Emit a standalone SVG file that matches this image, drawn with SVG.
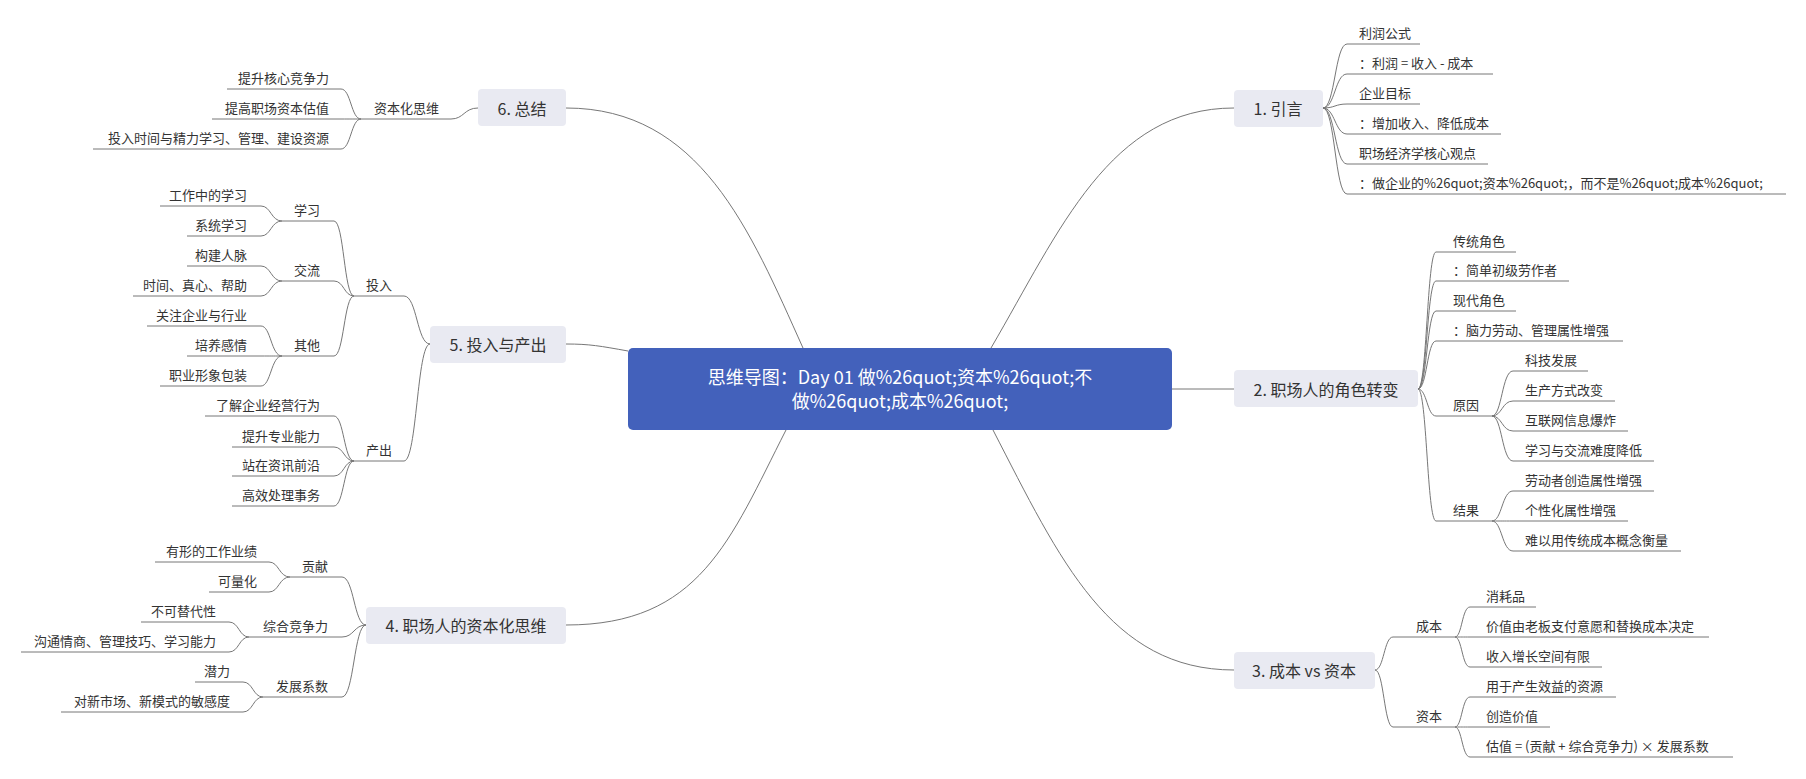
<svg xmlns="http://www.w3.org/2000/svg" width="1806" height="779" viewBox="0 0 1806 779">
<style>
text{font-family:"Noto Sans CJK SC","Noto Sans",sans-serif;fill:#333}
.lf{font-size:13px}
.l2{font-size:13px}
.l1{font-size:16px;text-anchor:middle;dominant-baseline:central}
.r{text-anchor:end}
.c{font-size:18px;fill:#fff;text-anchor:middle}
.box{fill:#e9eaf2}
#links path{fill:none;stroke:#777;stroke-width:1}
</style>
<rect width="1806" height="779" fill="#fff"/>
<g id="links">
<path d="M991,348 C1060,230 1110,108 1234,108"/>
<path d="M1172,389 H1234"/>
<path d="M993,430 C1060,560 1110,670 1234,670"/>
<path d="M803,348 C750,230 700,108 566,108"/>
<path d="M628,351 C600,346 590,344 566,344"/>
<path d="M786,430 C730,540 700,625 566,625"/>
<path d="M1323,108 C1335,108 1335,44 1347,44 H1420 M1323,108 C1335,108 1335,74 1347,74 H1493 M1323,108 C1335,108 1335,104 1347,104 H1420 M1323,108 C1335,108 1335,134 1347,134 H1501 M1323,108 C1335,108 1335,164 1347,164 H1488 M1323,108 C1335,108 1335,194 1347,194 H1786"/>
<path d="M1418,389 C1427,389 1427,252 1436,252 H1516 M1418,389 C1427,389 1427,281 1436,281 H1569 M1418,389 C1427,389 1427,311 1436,311 H1516 M1418,389 C1427,389 1427,341 1436,341 H1623 M1418,389 C1427,389 1427,416 1436,416 H1492 M1418,389 C1427,389 1427,521 1436,521 H1492"/>
<path d="M1492,416 C1502,416 1502,371 1513,371 H1588 M1492,416 C1502,416 1502,401 1513,401 H1615 M1492,416 C1502,416 1502,431 1513,431 H1628 M1492,416 C1502,416 1502,461 1513,461 H1654"/>
<path d="M1492,521 C1502,521 1502,491 1513,491 H1654 M1492,521 C1502,521 1502,521 1513,521 H1628 M1492,521 C1502,521 1502,551 1513,551 H1681"/>
<path d="M1375,670 C1384,670 1384,637 1393,637 H1455 M1375,670 C1384,670 1384,727 1393,727 H1455"/>
<path d="M1455,637 C1462,637 1462,607 1470,607 H1536 M1455,637 C1462,637 1462,637 1470,637 H1709 M1455,637 C1462,637 1462,667 1470,667 H1602"/>
<path d="M1455,727 C1462,727 1462,697 1470,697 H1616 M1455,727 C1462,727 1462,727 1470,727 H1550 M1455,727 C1462,727 1462,757 1470,757 H1733"/>
<path d="M478,108 C464,108 464,119 451,119 H361"/>
<path d="M361,119 C351,119 351,89 341,89 H227 M361,119 C351,119 351,119 341,119 H212 M361,119 C351,119 351,149 341,149 H93"/>
<path d="M430,344 C417,344 417,296 404,296 H354 M430,344 C417,344 417,461 404,461 H354"/>
<path d="M354,296 C344,296 344,221 334,221 H282 M354,296 C344,296 344,281 334,281 H282 M354,296 C344,296 344,356 334,356 H282"/>
<path d="M282,221 C271,221 271,206 261,206 H160 M282,221 C271,221 271,236 261,236 H187"/>
<path d="M282,281 C271,281 271,266 261,266 H187 M282,281 C271,281 271,296 261,296 H133"/>
<path d="M282,356 C271,356 271,326 261,326 H147 M282,356 C271,356 271,356 261,356 H187 M282,356 C271,356 271,386 261,386 H160"/>
<path d="M354,461 C344,461 344,416 334,416 H205 M354,461 C344,461 344,447 334,447 H232 M354,461 C344,461 344,476 334,476 H232 M354,461 C344,461 344,506 334,506 H232"/>
<path d="M366,625 C354,625 354,577 342,577 H290 M366,625 C354,625 354,637 342,637 H249 M366,625 C354,625 354,697 342,697 H263"/>
<path d="M290,577 C279,577 279,562 269,562 H155 M290,577 C279,577 279,592 269,592 H209"/>
<path d="M249,637 C239,637 239,622 229,622 H141 M249,637 C239,637 239,652 229,652 H21"/>
<path d="M263,697 C253,697 253,682 243,682 H195 M263,697 C253,697 253,712 243,712 H61"/>
</g>
<g id="center"><rect x="628" y="348" width="544" height="82" rx="5" fill="#4361bb"/>
<text class="c" x="900" y="384">思维导图：Day 01 做%26quot;资本%26quot;不</text>
<text class="c" x="900" y="408">做%26quot;成本%26quot;</text></g>
<g id="n1"><rect class="box" x="1234" y="90" width="89" height="37" rx="4"/><text class="l1" x="1278" y="108">1. 引言</text>
<text class="lf" x="1359" y="38">利润公式</text><text class="lf" x="1359" y="68">：利润 = 收入 - 成本</text><text class="lf" x="1359" y="98">企业目标</text><text class="lf" x="1359" y="128">：增加收入、降低成本</text><text class="lf" x="1359" y="158">职场经济学核心观点</text><text class="lf" x="1359" y="188">：做企业的%26quot;资本%26quot;，而不是%26quot;成本%26quot;</text></g>
<g id="n2"><rect class="box" x="1234" y="370" width="184" height="37" rx="4"/><text class="l1" x="1326" y="389">2. 职场人的角色转变</text>
<text class="lf" x="1453" y="246">传统角色</text><text class="lf" x="1453" y="275">：简单初级劳作者</text><text class="lf" x="1453" y="305">现代角色</text><text class="lf" x="1453" y="335">：脑力劳动、管理属性增强</text><text class="l2" x="1453" y="410">原因</text><text class="l2" x="1453" y="515">结果</text>
<text class="lf" x="1525" y="365">科技发展</text><text class="lf" x="1525" y="395">生产方式改变</text><text class="lf" x="1525" y="425">互联网信息爆炸</text><text class="lf" x="1525" y="455">学习与交流难度降低</text>
<text class="lf" x="1525" y="485">劳动者创造属性增强</text><text class="lf" x="1525" y="515">个性化属性增强</text><text class="lf" x="1525" y="545">难以用传统成本概念衡量</text></g>
<g id="n3"><rect class="box" x="1234" y="652" width="141" height="37" rx="4"/><text class="l1" x="1304" y="670">3. 成本 vs 资本</text>
<text class="l2" x="1416" y="631">成本</text><text class="l2" x="1416" y="721">资本</text>
<text class="lf" x="1486" y="601">消耗品</text><text class="lf" x="1486" y="631">价值由老板支付意愿和替换成本决定</text><text class="lf" x="1486" y="661">收入增长空间有限</text>
<text class="lf" x="1486" y="691">用于产生效益的资源</text><text class="lf" x="1486" y="721">创造价值</text><text class="lf" x="1486" y="751">估值 = (贡献 + 综合竞争力) × 发展系数</text></g>
<g id="n4"><rect class="box" x="366" y="607" width="200" height="37" rx="4"/><text class="l1" x="466" y="625">4. 职场人的资本化思维</text>
<text class="l2 r" x="328" y="571">贡献</text><text class="l2 r" x="328" y="631">综合竞争力</text><text class="l2 r" x="328" y="691">发展系数</text>
<text class="lf r" x="257" y="556">有形的工作业绩</text><text class="lf r" x="257" y="586">可量化</text><text class="lf r" x="216" y="616">不可替代性</text><text class="lf r" x="216" y="646">沟通情商、管理技巧、学习能力</text><text class="lf r" x="230" y="676">潜力</text><text class="lf r" x="230" y="706">对新市场、新模式的敏感度</text></g>
<g id="n5"><rect class="box" x="430" y="326" width="136" height="37" rx="4"/><text class="l1" x="498" y="344">5. 投入与产出</text>
<text class="l2 r" x="392" y="290">投入</text><text class="l2 r" x="392" y="455">产出</text>
<text class="l2 r" x="320" y="215">学习</text><text class="l2 r" x="320" y="275">交流</text><text class="l2 r" x="320" y="350">其他</text>
<text class="lf r" x="247" y="200">工作中的学习</text><text class="lf r" x="247" y="230">系统学习</text><text class="lf r" x="247" y="260">构建人脉</text><text class="lf r" x="247" y="290">时间、真心、帮助</text><text class="lf r" x="247" y="320">关注企业与行业</text><text class="lf r" x="247" y="350">培养感情</text><text class="lf r" x="247" y="380">职业形象包装</text>
<text class="lf r" x="320" y="410">了解企业经营行为</text><text class="lf r" x="320" y="441">提升专业能力</text><text class="lf r" x="320" y="470">站在资讯前沿</text><text class="lf r" x="320" y="500">高效处理事务</text></g>
<g id="n6"><rect class="box" x="478" y="89" width="88" height="37" rx="4"/><text class="l1" x="522" y="108">6. 总结</text>
<text class="l2 r" x="439" y="113">资本化思维</text>
<text class="lf r" x="329" y="83">提升核心竞争力</text><text class="lf r" x="329" y="113">提高职场资本估值</text><text class="lf r" x="329" y="143">投入时间与精力学习、管理、建设资源</text></g>
</svg>
